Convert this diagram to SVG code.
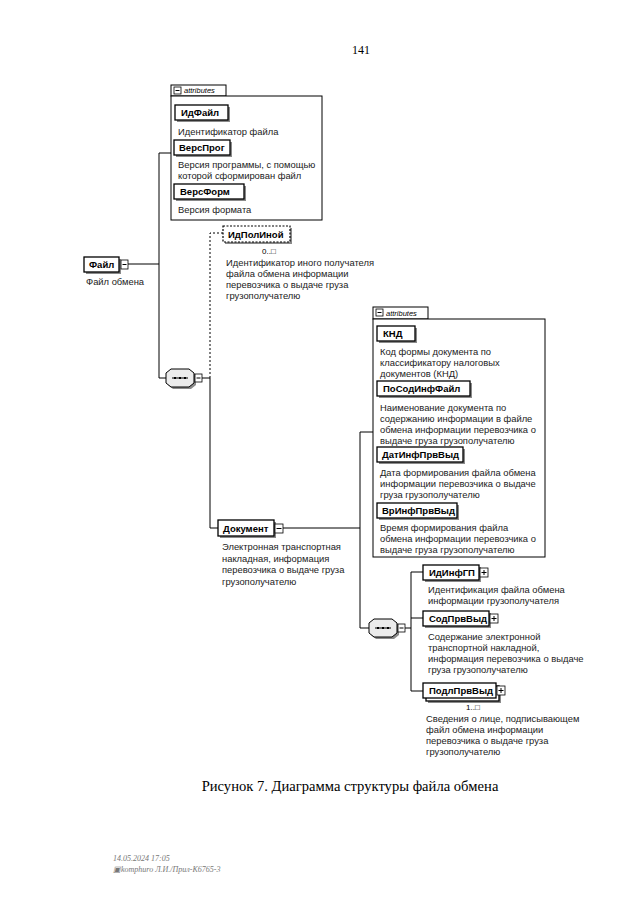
<svg xmlns="http://www.w3.org/2000/svg" width="640" height="916" viewBox="0 0 640 916">
<defs>
<style>
.bx{fill:#fff;stroke:#000;stroke-width:1.3}
.db{fill:#fff;stroke:#000;stroke-width:1.2;stroke-dasharray:2,1.5}
.sh{fill:#8a8a8a}
.nm{font-family:"Liberation Sans",Arial,sans-serif;font-weight:bold;font-size:9.5px;fill:#000}
.ds{font-family:"Liberation Sans",Arial,sans-serif;font-size:9.4px;fill:#222}
.at{font-family:"Liberation Sans",Arial,sans-serif;font-style:italic;font-size:7.5px;fill:#000}
.oc{font-family:"Liberation Sans",Arial,sans-serif;font-size:8px;fill:#000}
.ln{stroke:#000;stroke-width:1;fill:none}
.dl{stroke:#000;stroke-width:1;fill:none;stroke-dasharray:2,2}
.ic{fill:#fff;stroke:#000;stroke-width:0.8}
.cp{fill:#ececec;stroke:#000;stroke-width:1}
.ab{fill:#fff;stroke:#000;stroke-width:1}
.cap{font-family:"Liberation Serif","Times New Roman",serif;font-size:14.6px;fill:#000}
.ft{font-family:"Liberation Serif","Times New Roman",serif;font-style:italic;font-size:8px;fill:#777}
</style>
</defs>
<rect width="640" height="916" fill="#fff"/>
<text x="361" y="54" text-anchor="middle" style="font-family:'Liberation Serif',serif;font-size:12px">141</text>

<g id="connectors">
<path class="ln" d="M159,153 V378 M159,153 H171 M128,264 H159 M159,378 H166"/>
<path class="ln" d="M202,378 H210"/>
<path class="dl" d="M210,378 V233 H223"/>
<path class="ln" d="M210,378 V528 H218"/>
<path class="ln" d="M283,528 H360 M360,432 V628 M360,432 H373 M360,628 H369"/>
<path class="ln" d="M405,628 H411 M411,572 V691 M411,572 H423 M411,618 H423 M411,691 H423"/>
</g>

<g id="attrs1">
<rect class="ab" x="171" y="85" width="55" height="11"/>
<rect class="ic" x="174" y="87" width="7" height="7"/><path class="ln" d="M175.5,90.5 H179.5"/>
<text class="at" x="184" y="93">attributes</text>
<rect class="ab" x="171" y="96" width="151" height="124"/>
</g>
<g id="ИдФайл">
<rect class="sh" x="177" y="107" width="53" height="15"/>
<rect class="bx" x="175" y="105" width="53" height="15"/>
<text class="nm" x="181" y="116">ИдФайл</text>
<text class="ds" x="178" y="135">Идентификатор файла</text>
</g>
<g id="ВерсПрог">
<rect class="sh" x="176" y="142" width="56" height="15"/>
<rect class="bx" x="174" y="140" width="56" height="15"/>
<text class="nm" x="179" y="151">ВерсПрог</text>
<text class="ds" x="178" y="168">Версия программы, с помощью</text>
<text class="ds" x="178" y="179">которой сформирован файл</text>
</g>
<g id="ВерсФорм">
<rect class="sh" x="176" y="186" width="70" height="15"/>
<rect class="bx" x="174" y="184" width="70" height="15"/>
<text class="nm" x="180" y="195">ВерсФорм</text>
<text class="ds" x="178" y="213">Версия формата</text>
</g>

<g id="Файл">
<rect class="sh" x="86" y="259" width="35" height="15"/>
<rect class="bx" x="84" y="257" width="35" height="15"/>
<text class="nm" x="89" y="268">Файл</text>
<rect class="ic" x="121" y="260" width="7" height="9"/><path class="ln" d="M122.5,264.5 H126.5"/>
<text class="ds" x="86" y="285">Файл обмена</text>
</g>

<g id="seq1">
<path class="sh" d="M173,371 H191 L196,375 V385 L191,389 H173 L168,385 V375 Z"/>
<path class="cp" d="M171,369 H189 L194,373 V383 L189,387 H171 L166,383 V373 Z"/>
<path class="ln" d="M172,378 H188"/>
<rect x="174" y="377" width="2" height="2"/><rect x="179" y="377" width="2" height="2"/><rect x="184" y="377" width="2" height="2"/>
<rect class="ic" x="195" y="374" width="7" height="8"/><path class="ln" d="M196.5,378 H200.5"/>
</g>

<g id="ИдПолИной">
<rect class="sh" x="225" y="228" width="67" height="16"/>
<rect class="db" x="223" y="226" width="67" height="16"/>
<text class="nm" x="228" y="238">ИдПолИной</text>
<text class="oc" x="262" y="254">0..□</text>
<text class="ds" x="226" y="266">Идентификатор иного получателя</text>
<text class="ds" x="226" y="277">файла обмена информации</text>
<text class="ds" x="226" y="288">перевозчика о выдаче груза</text>
<text class="ds" x="226" y="299">грузополучателю</text>
</g>

<g id="Документ">
<rect class="sh" x="220" y="522" width="56" height="16"/>
<rect class="bx" x="218" y="520" width="56" height="16"/>
<text class="nm" x="223" y="532">Документ</text>
<rect class="ic" x="275" y="524" width="8" height="9"/><path class="ln" d="M276.5,528.5 H281.5"/>
<text class="ds" x="222" y="550">Электронная транспортная</text>
<text class="ds" x="222" y="561.5">накладная, информация</text>
<text class="ds" x="222" y="573">перевозчика о выдаче груза</text>
<text class="ds" x="222" y="584.5">грузополучателю</text>
</g>

<g id="attrs2">
<rect class="ab" x="373" y="307" width="55" height="12"/>
<rect class="ic" x="376" y="309" width="7" height="7"/><path class="ln" d="M377.5,312.5 H381.5"/>
<text class="at" x="386" y="316">attributes</text>
<rect class="ab" x="373" y="319" width="172" height="238"/>
</g>
<g id="КНД">
<rect class="sh" x="379" y="328" width="38" height="15"/>
<rect class="bx" x="377" y="326" width="38" height="15"/>
<text class="nm" x="383" y="337">КНД</text>
<text class="ds" x="380" y="355">Код формы документа по</text>
<text class="ds" x="380" y="366">классификатору налоговых</text>
<text class="ds" x="380" y="377">документов (КНД)</text>
</g>
<g id="ПоСодИнфФайл">
<rect class="sh" x="379" y="383" width="93" height="15"/>
<rect class="bx" x="377" y="381" width="93" height="15"/>
<text class="nm" x="383" y="392">ПоСодИнфФайл</text>
<text class="ds" x="380" y="411">Наименование документа по</text>
<text class="ds" x="380" y="422">содержанию информации в файле</text>
<text class="ds" x="380" y="433">обмена информации перевозчика о</text>
<text class="ds" x="380" y="444">выдаче груза грузополучателю</text>
</g>
<g id="ДатИнфПрвВыд">
<rect class="sh" x="379" y="449" width="86" height="15"/>
<rect class="bx" x="377" y="447" width="86" height="15"/>
<text class="nm" x="382" y="458">ДатИнфПрвВыд</text>
<text class="ds" x="380" y="476">Дата формирования файла обмена</text>
<text class="ds" x="380" y="487">информации перевозчика о выдаче</text>
<text class="ds" x="380" y="498">груза грузополучателю</text>
</g>
<g id="ВрИнфПрвВыд">
<rect class="sh" x="379" y="505" width="80" height="15"/>
<rect class="bx" x="377" y="503" width="80" height="15"/>
<text class="nm" x="382" y="514">ВрИнфПрвВыд</text>
<text class="ds" x="380" y="531">Время формирования файла</text>
<text class="ds" x="380" y="542">обмена информации перевозчика о</text>
<text class="ds" x="380" y="553">выдаче груза грузополучателю</text>
</g>

<g id="seq2">
<path class="sh" d="M376,621 H394 L399,625 V635 L394,639 H376 L371,635 V625 Z"/>
<path class="cp" d="M374,619 H392 L397,623 V633 L392,637 H374 L369,633 V623 Z"/>
<path class="ln" d="M375,628 H391"/>
<rect x="377" y="627" width="2" height="2"/><rect x="382" y="627" width="2" height="2"/><rect x="387" y="627" width="2" height="2"/>
<rect class="ic" x="398" y="624" width="7" height="8"/><path class="ln" d="M399.5,628 H403.5"/>
</g>

<g id="ИдИнфГП">
<rect class="sh" x="425" y="567" width="56" height="15"/>
<rect class="bx" x="423" y="565" width="56" height="15"/>
<text class="nm" x="429" y="576">ИдИнфГП</text>
<rect class="ic" x="480" y="568" width="8" height="9"/><path class="ln" d="M481.5,572.5 H486.5 M484,570 V575"/>
<text class="ds" x="428" y="593">Идентификация файла обмена</text>
<text class="ds" x="428" y="604">информации грузополучателя</text>
</g>
<g id="СодПрвВыд">
<rect class="sh" x="425" y="613" width="66" height="15"/>
<rect class="bx" x="423" y="611" width="66" height="15"/>
<text class="nm" x="429" y="622">СодПрвВыд</text>
<rect class="ic" x="490" y="614" width="8" height="9"/><path class="ln" d="M491.5,618.5 H496.5 M494,616 V621"/>
<text class="ds" x="428" y="640">Содержание электронной</text>
<text class="ds" x="428" y="651">транспортной накладной,</text>
<text class="ds" x="428" y="662">информация перевозчика о выдаче</text>
<text class="ds" x="428" y="673">груза грузополучателю</text>
</g>
<g id="ПодлПрвВыд">
<rect class="sh" x="428" y="688" width="73" height="15"/>
<rect class="bx" x="426" y="686" width="73" height="15"/>
<rect class="bx" x="423" y="683" width="73" height="15"/>
<text class="nm" x="429" y="694">ПодлПрвВыд</text>
<rect class="ic" x="497" y="686" width="8" height="9"/><path class="ln" d="M498.5,690.5 H503.5 M501,688 V693"/>
<text class="oc" x="466" y="710">1..□</text>
<text class="ds" x="426" y="722">Сведения о лице, подписывающем</text>
<text class="ds" x="426" y="733">файл обмена информации</text>
<text class="ds" x="426" y="744">перевозчика о выдаче груза</text>
<text class="ds" x="426" y="755">грузополучателю</text>
</g>

<text class="cap" x="350" y="791" text-anchor="middle">Рисунок 7. Диаграмма структуры файла обмена</text>
<text class="ft" x="113" y="861">14.05.2024 17:05</text>
<text class="ft" x="113" y="872">▣komphuro Л.И./Прил-К6765-3</text>
</svg>
